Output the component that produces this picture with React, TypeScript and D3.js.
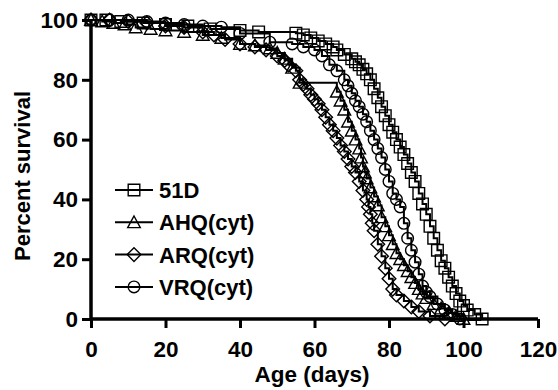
import React, { useEffect, useRef } from 'react';
import * as d3 from 'd3';

// survival data (age in days, percent survival)
const days51D = [0, 4, 8, 14, 20, 26, 32, 40, 45, 55, 57, 59, 61, 63, 65, 66, 68, 70, 71, 72, 73, 74, 75, 76, 77, 78, 79, 80, 81, 82, 83, 84, 85, 86, 87, 88, 89, 90, 91, 92, 93, 94, 95, 96, 97, 98, 99, 100, 101, 103, 105];
const surv51D = [100, 100, 99.5, 99, 98.5, 98, 97, 96.5, 96, 95.6, 95, 94, 93, 92, 91, 90, 88.5, 87, 86, 85, 83.5, 82, 80, 77, 74, 71, 68, 65, 62.5, 60, 57.5, 55, 52, 49, 46, 42, 38.5, 35, 31, 27, 23, 19.5, 17, 14, 11, 8.5, 6, 4.5, 3, 1.5, 0];

const daysAHQ = [0, 3, 6, 9, 12, 16, 20, 25, 30, 35, 40, 44, 48, 50, 52, 54, 56, 66, 67, 68, 69, 70, 71, 72, 72.5, 73, 73.5, 74, 75, 76, 77, 78, 79, 80, 81, 82, 83, 84, 85, 86, 87, 88, 89, 90, 92, 94, 96, 98, 100];
const survAHQ = [100, 99.5, 99, 98.5, 97.5, 97, 96.5, 96, 95, 94, 92, 91.5, 90.5, 89, 87, 84, 79, 76, 73, 70, 66, 63, 60, 57, 54, 51, 49, 47, 44, 41, 38, 34, 31, 28, 25, 22, 20, 18, 16, 14, 12, 10, 8.5, 7, 5, 3.5, 2, 1, 0];

const daysARQ = [0, 5, 10, 15, 20, 25, 30, 33, 36, 40, 44, 47, 50, 52, 53, 55, 56, 57, 58, 59, 60, 61, 62, 63, 64, 65, 66, 67, 68, 69, 70, 71, 72, 73, 74, 74.5, 75, 75.5, 76, 77, 78, 79, 80, 81, 82, 84, 86, 88, 91, 95];
const survARQ = [100, 100, 99.5, 99, 98, 97.5, 96, 95, 93.5, 92, 91, 90, 88, 86.5, 85, 83, 80, 78.5, 77, 75, 73.5, 72, 70, 67.5, 65, 63, 60.5, 58, 56, 53.5, 51, 49, 46, 43, 40, 37.5, 35, 32, 29.5, 25, 21, 17, 13.5, 10, 8, 6, 4, 2.5, 1, 0];

const daysVRQ = [0, 5, 10, 15, 20, 25, 30, 35, 40, 48, 54, 57, 60, 62, 64, 66, 68, 69, 70, 71, 72, 73, 74, 75, 76, 77, 78, 79, 80, 81, 82, 83, 84, 85, 86, 87, 88, 89, 90, 91, 93, 95, 97, 99];
const survVRQ = [100, 100, 100, 99.5, 99, 98.5, 98, 97.6, 95.5, 92.6, 92, 91, 90, 88, 85, 83, 80, 78, 75.5, 73, 71, 68.5, 66, 63, 60, 57, 54, 50, 46, 42, 40, 37.5, 32, 27, 23, 19, 15, 11, 9, 7.5, 5, 3, 1.5, 0];

const seriesNames = ['51D', 'AHQ(cyt)', 'ARQ(cyt)', 'VRQ(cyt)'];
const seriesSymbols = ['square', 'triangle', 'diamond', 'circle'];
const xTicks = [0, 20, 40, 60, 80, 100, 120];
const yTicks = [0, 20, 40, 60, 80, 100];

const FONT = '"Liberation Sans", Arial, sans-serif';

const App: React.FC = () => {
  const ref = useRef<SVGSVGElement | null>(null);

  useEffect(() => {
    const W = 558, H = 390;
    const left = 91, right = 538, top = 20, bottom = 319;

    const svgSel = d3.select(ref.current);
    svgSel.selectAll('*').remove();
    const svg = svgSel.attr('width', W).attr('height', H);

    const x = d3.scaleLinear().domain([0, 120]).range([left, right]);
    const y = d3.scaleLinear().domain([0, 100]).range([bottom, top]);

    const series = [
      { name: seriesNames[0], sym: seriesSymbols[0], days: days51D, surv: surv51D },
      { name: seriesNames[1], sym: seriesSymbols[1], days: daysAHQ, surv: survAHQ },
      { name: seriesNames[2], sym: seriesSymbols[2], days: daysARQ, surv: survARQ },
      { name: seriesNames[3], sym: seriesSymbols[3], days: daysVRQ, surv: survVRQ },
    ];

    // marker path drawn around (0,0)
    const markerPath = (sym: string) => {
      const s = 5.8;
      if (sym === 'square') return `M${-s},${-s}H${s}V${s}H${-s}Z`;
      if (sym === 'triangle') return `M0,${-s - 0.5}L${s + 0.5},${s - 0.5}L${-s - 0.5},${s - 0.5}Z`;
      if (sym === 'diamond') return `M0,${-s - 1}L${s + 1},0L0,${s + 1}L${-s - 1},0Z`;
      return d3.arc()({ innerRadius: 0, outerRadius: s, startAngle: 0, endAngle: 2 * Math.PI } as any) as string;
    };

    const line = d3.line<[number, number]>()
      .x(d => x(d[0]))
      .y(d => y(d[1]))
      .curve(d3.curveStepAfter);

    series.forEach(s => {
      const pts: [number, number][] = s.days.map((d, i) => [d, s.surv[i]]);
      svg.append('path')
        .attr('d', line(pts) as string)
        .attr('fill', 'none')
        .attr('stroke', '#000')
        .attr('stroke-width', 2);

      svg.append('g')
        .selectAll('path')
        .data(pts)
        .enter().append('path')
        .attr('transform', d => `translate(${x(d[0])},${y(d[1])})`)
        .attr('d', markerPath(s.sym))
        .attr('fill', 'none')
        .attr('stroke', '#000')
        .attr('stroke-width', 1.4);
    });

    // axes
    const axisX = svg.append('g')
      .attr('transform', `translate(0,${bottom})`)
      .call(d3.axisBottom(x).tickValues(xTicks).tickSize(9).tickPadding(13).tickFormat(d3.format('d')));
    const axisY = svg.append('g')
      .attr('transform', `translate(${left},0)`)
      .call(d3.axisLeft(y).tickValues(yTicks).tickSize(9).tickPadding(4).tickFormat(d3.format('d')));

    [axisX, axisY].forEach(a => {
      a.select('.domain').attr('stroke-width', 3.5).attr('stroke', '#000');
      a.selectAll('.tick line').attr('stroke-width', 3).attr('stroke', '#000');
      a.selectAll('.tick text')
        .attr('fill', '#000')
        .style('font-family', FONT)
        .style('font-weight', 'bold')
        .style('font-size', '22.5px');
    });
    axisX.select('.domain').attr('d', `M${left},0H${right}`);
    axisY.select('.domain').attr('d', `M0,${top}V${bottom}`);

    // axis titles
    svg.append('text')
      .attr('x', 312)
      .attr('y', 382)
      .attr('text-anchor', 'middle')
      .style('font-family', FONT)
      .style('font-weight', 'bold')
      .style('font-size', '22.5px')
      .text('Age (days)');

    svg.append('text')
      .attr('transform', 'rotate(-90)')
      .attr('x', -176)
      .attr('y', 30)
      .attr('text-anchor', 'middle')
      .style('font-family', FONT)
      .style('font-weight', 'bold')
      .style('font-size', '22px')
      .text('Percent survival');

    // legend
    const legend = svg.append('g').attr('transform', 'translate(115,190)');
    series.forEach((s, i) => {
      const g = legend.append('g').attr('transform', `translate(0,${i * 32.3})`);
      g.append('line')
        .attr('x1', 0).attr('x2', 38)
        .attr('stroke', '#000').attr('stroke-width', 2);
      g.append('path')
        .attr('transform', 'translate(19,0)')
        .attr('d', markerPath(s.sym))
        .attr('fill', 'none')
        .attr('stroke', '#000')
        .attr('stroke-width', 1.4);
      g.append('text')
        .attr('x', 44)
        .attr('dy', '0.36em')
        .style('font-family', FONT)
        .style('font-weight', 'bold')
        .style('font-size', '22px')
        .text(s.name);
    });
  }, []);

  return <svg ref={ref} style={{ position: 'absolute', left: 0, top: 0 }}></svg>;
};

export default App;
